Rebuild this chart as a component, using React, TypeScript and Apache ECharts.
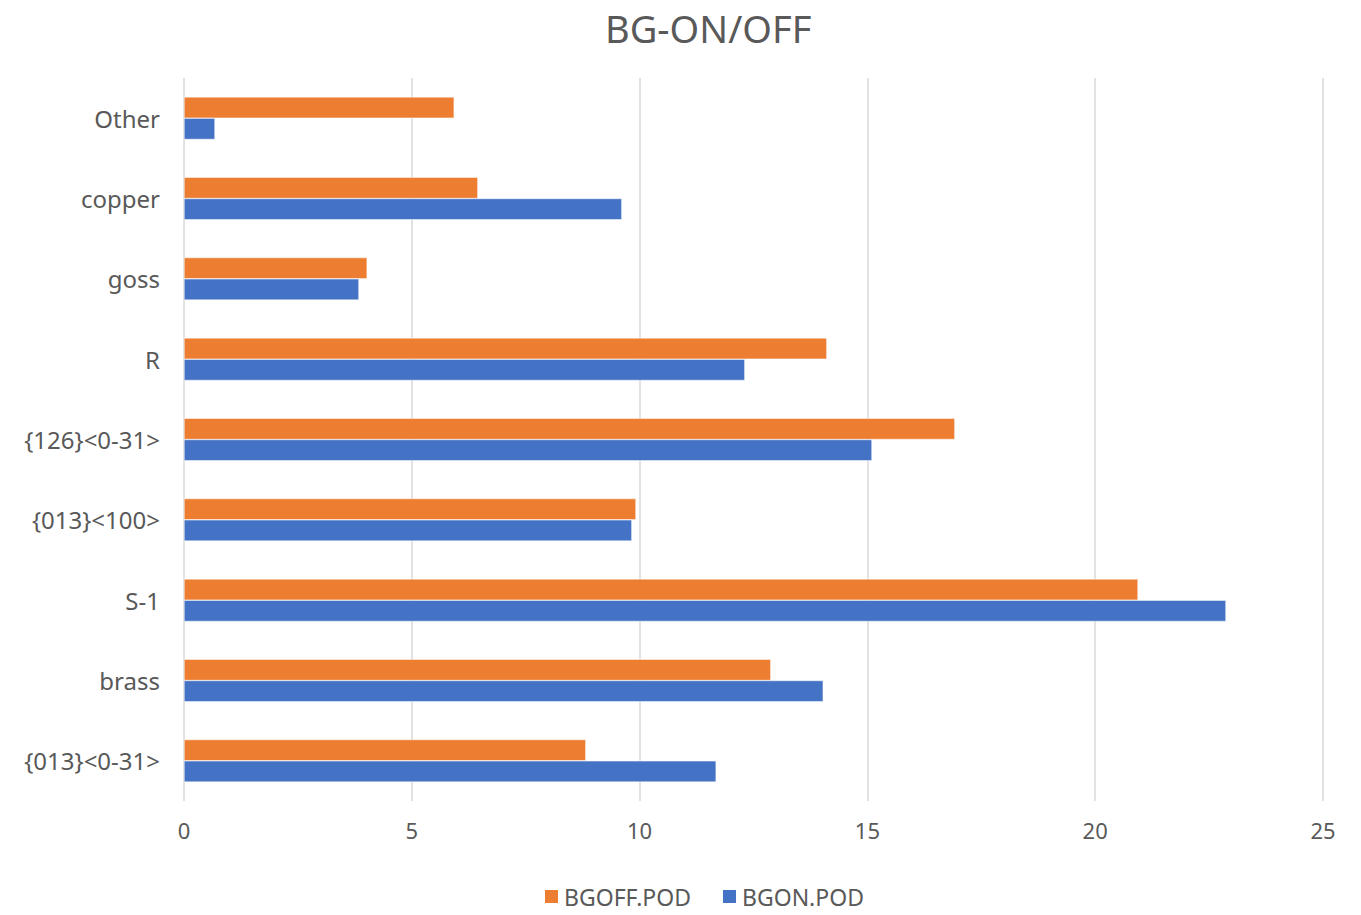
import React, { useEffect, useRef } from "react";
import * as echarts from "echarts";

// Categories listed from the bottom of the axis to the top
const categories = [
  "{013}<0-31>",
  "brass",
  "S-1",
  "{013}<100>",
  "{126}<0-31>",
  "R",
  "goss",
  "copper",
  "Other",
];

const bgoffValues = [8.82, 12.88, 20.94, 9.92, 16.92, 14.11, 4.02, 6.45, 5.93];
const bgonValues = [11.68, 14.03, 22.87, 9.83, 15.1, 12.31, 3.84, 9.61, 0.68];

const xTicks = { min: 0, max: 25, interval: 5 };

const FONT = '"Noto Sans", sans-serif';
const TEXT = "#595959";

export default function App() {
  const ref = useRef<HTMLDivElement>(null);

  useEffect(() => {
    if (!ref.current) return;
    const chart = echarts.init(ref.current, undefined, { renderer: "svg" });
    chart.setOption({
      animation: false,
      textStyle: { fontFamily: FONT },
      title: {
        text: "BG-ON/OFF",
        left: 600,
        top: 4,
        textStyle: { fontFamily: FONT, fontSize: 38, fontWeight: "normal", color: TEXT },
      },
      legend: {
        data: ["BGOFF.POD", "BGON.POD"],
        top: 883,
        left: 538,
        icon: "rect",
        itemWidth: 15,
        itemHeight: 15,
        itemGap: 30,
        padding: [2, 5, 2, 5],
        textStyle: { fontFamily: FONT, fontSize: 23, color: TEXT },
      },
      grid: { left: 184, right: 38, top: 78, bottom: 114, containLabel: false },
      xAxis: {
        type: "value",
        min: xTicks.min,
        max: xTicks.max,
        interval: xTicks.interval,
        axisLine: { show: false },
        axisTick: { show: false },
        axisLabel: { fontFamily: FONT, fontSize: 22, color: TEXT, margin: 18 },
        splitLine: { show: true, lineStyle: { color: "#d9d9d9", width: 1.5 } },
      },
      yAxis: {
        type: "category",
        data: categories,
        axisLine: { show: false },
        axisTick: { show: false },
        axisLabel: { fontFamily: FONT, fontSize: 24, color: TEXT, margin: 24 },
        splitLine: { show: false },
      },
      series: [
        {
          name: "BGOFF.POD",
          type: "bar",
          data: bgoffValues,
          itemStyle: { color: "#ED7D31", borderColor: "#ffffff", borderWidth: 0.5 },
          barGap: "0%",
          barCategoryGap: "47%",
        },
        {
          name: "BGON.POD",
          type: "bar",
          data: bgonValues,
          itemStyle: { color: "#4472C4", borderColor: "#ffffff", borderWidth: 0.5 },
          barGap: "0%",
          barCategoryGap: "47%",
        },
      ],
    });
    return () => chart.dispose();
  }, []);

  return (
    <div
      ref={ref}
      style={{ position: "absolute", left: 0, top: 0, width: 1361, height: 915 }}
    />
  );
}
